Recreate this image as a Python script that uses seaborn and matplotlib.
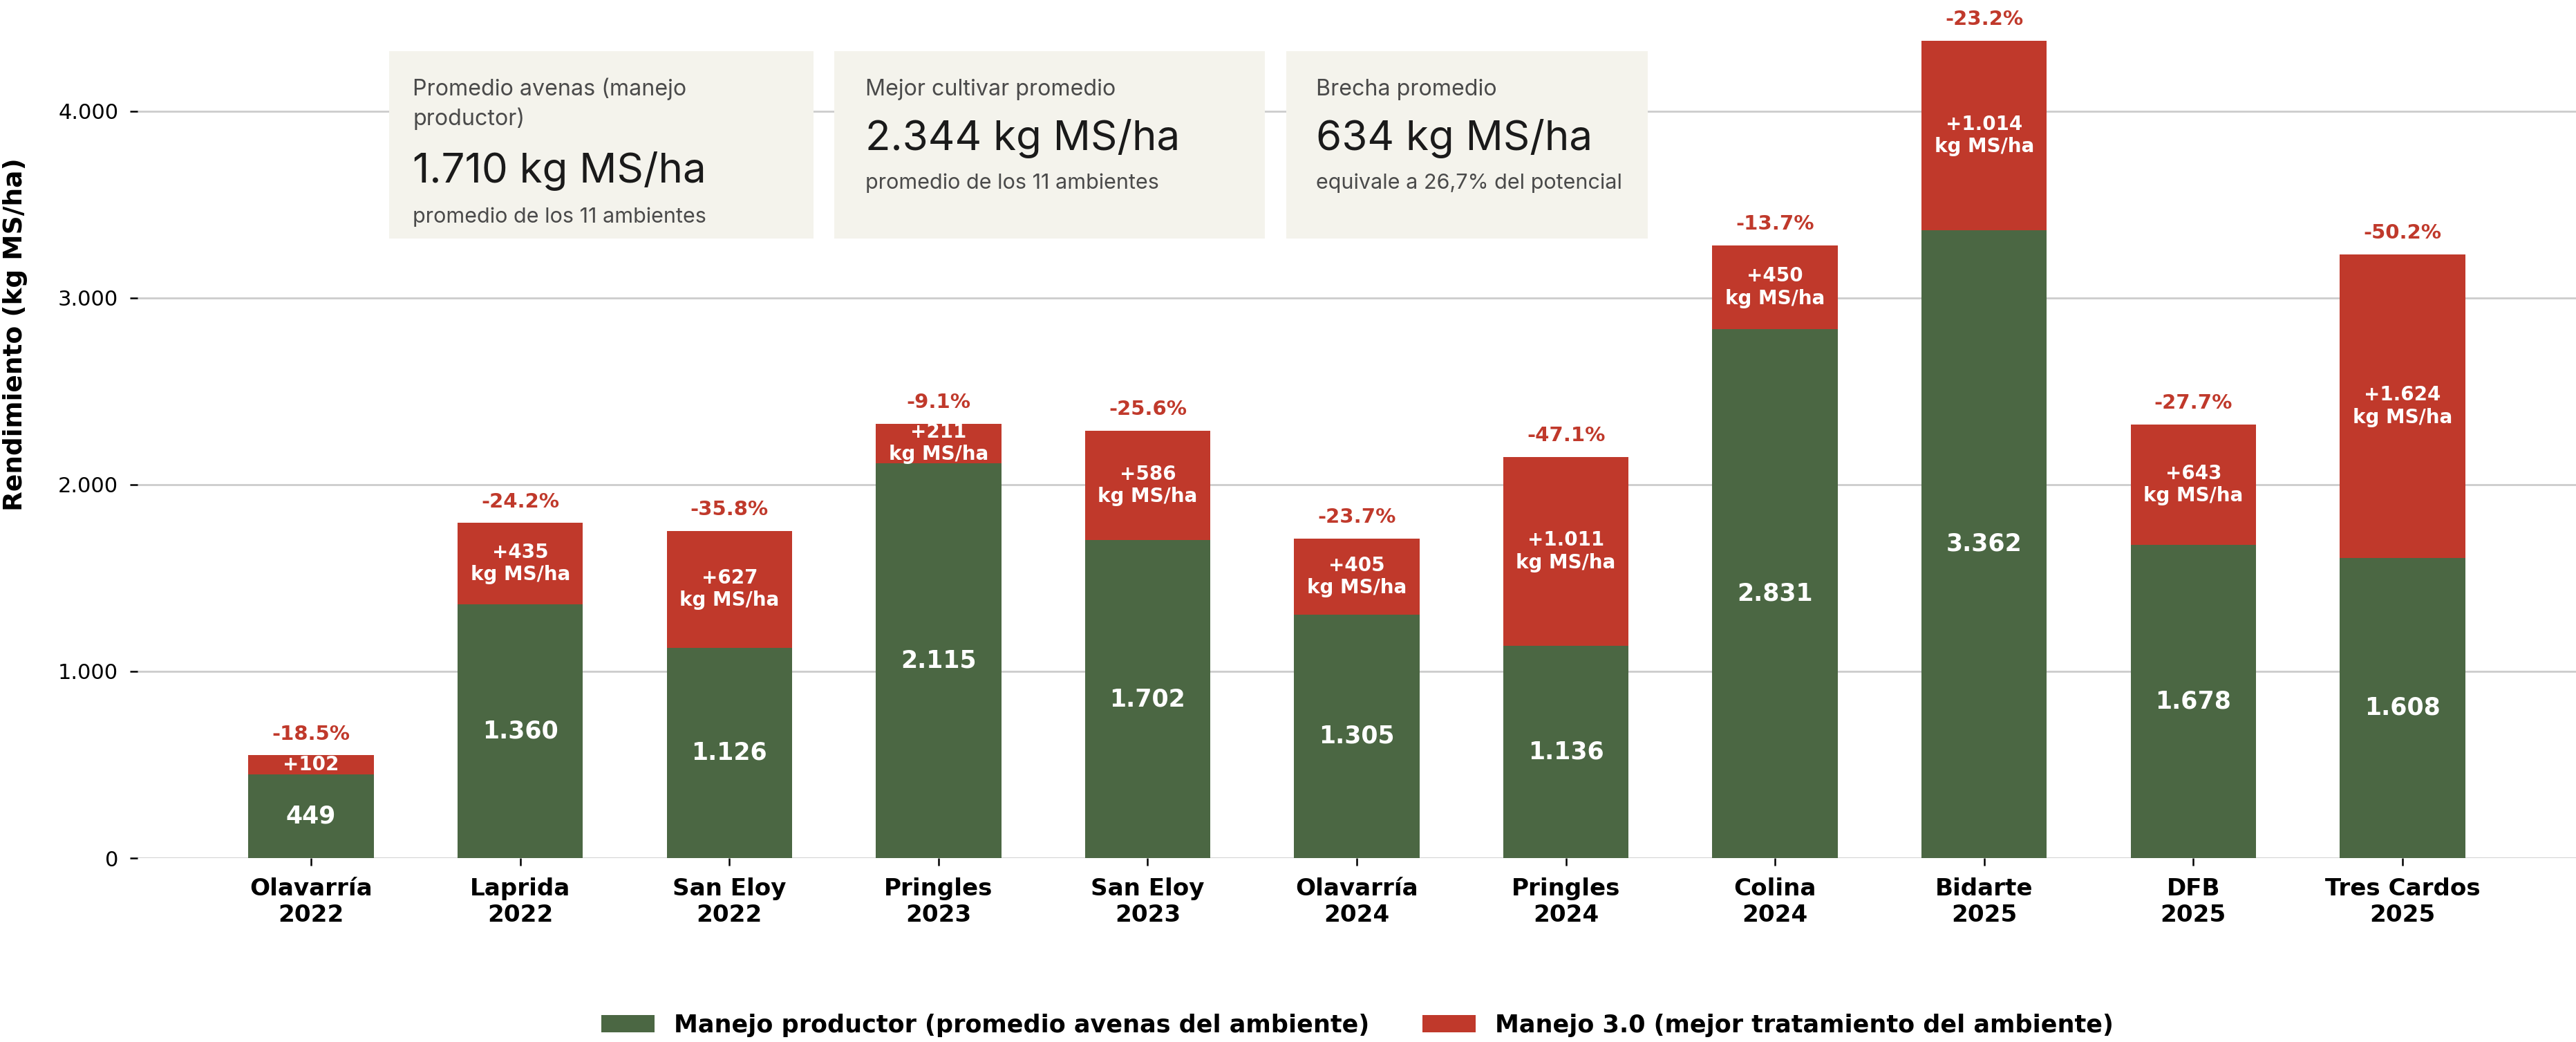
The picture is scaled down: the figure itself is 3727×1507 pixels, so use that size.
"""
Rendimiento de avenas: manejo productor vs manejo 3.0 por ambiente.
Output: out.png
"""

import matplotlib
matplotlib.use("Agg")
import matplotlib.pyplot as plt
from matplotlib.patches import Rectangle
from matplotlib.ticker import FuncFormatter
import pandas as pd
import seaborn as sns

GREEN = "#4b6743"
RED = "#c0392b"
BOX_BG = "#f4f3ec"

sites = [
    "Olavarría\n2022", "Laprida\n2022", "San Eloy\n2022", "Pringles\n2023",
    "San Eloy\n2023", "Olavarría\n2024", "Pringles\n2024", "Colina\n2024",
    "Bidarte\n2025", "DFB\n2025", "Tres Cardos\n2025",
]
productor = [449, 1360, 1126, 2115, 1702, 1305, 1136, 2831, 3362, 1678, 1608]
brecha = [102, 435, 627, 211, 586, 405, 1011, 450, 1014, 643, 1624]
brecha_pct = [-18.5, -24.2, -35.8, -9.1, -25.6, -23.7, -47.1, -13.7, -23.2, -27.7, -50.2]

legend_labels = [
    "Manejo productor (promedio avenas del ambiente)",
    "Manejo 3.0 (mejor tratamiento del ambiente)",
]

box_titles = ["Promedio avenas (manejo\nproductor)", "Mejor cultivar promedio", "Brecha promedio"]
box_values = ["1.710 kg MS/ha", "2.344 kg MS/ha", "634 kg MS/ha"]
box_notes = ["promedio de los 11 ambientes", "promedio de los 11 ambientes",
             "equivale a 26,7% del potencial"]


def miles(v):
    return f"{int(round(v)):,}".replace(",", ".")


sns.set_style("white", {"xtick.bottom": True, "ytick.left": True,
                        "text.color": "black", "axes.labelcolor": "black",
                        "xtick.color": "black", "ytick.color": "black"})
plt.rcParams["font.family"] = ["DejaVu Sans"]

df = pd.DataFrame({"sitio": sites, "productor": productor, "brecha": brecha})
df["total"] = df["productor"] + df["brecha"]

fig = plt.figure(figsize=(18.635, 7.535), dpi=200)
ax = fig.add_axes([0.0534, 0.1765, 0.9466, 0.8235])

sns.barplot(data=df, x="sitio", y="total", color=RED, saturation=1, width=0.6,
            linewidth=0, label=legend_labels[1], ax=ax)
sns.barplot(data=df, x="sitio", y="productor", color=GREEN, saturation=1, width=0.6,
            linewidth=0, label=legend_labels[0], ax=ax)
handles, labels = ax.get_legend_handles_labels()
if ax.get_legend() is not None:
    ax.get_legend().remove()

ax.set_xlim(-0.83, len(sites) - 0.17)
ax.set_ylim(0, df["total"].max() * 1.05)
ax.set_axisbelow(True)
ax.yaxis.grid(True, color="#cccccc", linewidth=1.0)
ax.set_yticks([0, 1000, 2000, 3000, 4000])
ax.yaxis.set_major_formatter(FuncFormatter(lambda v, p: miles(v)))
sns.despine(ax=ax, left=True, bottom=True)
ax.tick_params(axis="y", length=4, width=0.9, color="black", labelcolor="black",
               labelsize=11, pad=6)
ax.tick_params(axis="x", length=4, width=0.9, color="black", labelcolor="black",
               labelsize=12.3, pad=6)
for lbl in ax.get_xticklabels():
    lbl.set_fontweight("bold")
ax.set_xlabel("")
ax.set_ylabel("Rendimiento (kg MS/ha)", fontsize=13.5, weight="bold", color="black")
ax.yaxis.set_label_coords(-0.045, 0.61)

for i, row in df.iterrows():
    # productor value in the middle of the green segment
    ax.text(i, row["productor"] / 2, miles(row["productor"]), ha="center", va="center",
            color="white", fontsize=12.5, weight="bold")
    # gap value in the middle of the red segment
    gap_txt = f"+{miles(row['brecha'])}"
    if row["brecha"] >= 150:
        gap_txt += "\nkg MS/ha"
    ax.text(i, row["productor"] + row["brecha"] / 2, gap_txt, ha="center", va="center",
            color="white", fontsize=10, weight="bold", linespacing=1.2)
    ax.annotate(f"{brecha_pct[i]:.1f}%", xy=(i, row["total"]), xytext=(0, 6),
                textcoords="offset points", ha="center", va="bottom",
                color=RED, fontsize=10.5, weight="bold")

order = [labels.index(l) for l in legend_labels]
fig.legend([handles[k] for k in order], [labels[k] for k in order],
           loc="center", bbox_to_anchor=(0.527, 0.016), ncol=2, frameon=False,
           prop={"weight": "bold", "size": 12.6}, handlelength=2.2, columnspacing=2.2)

# summary cards
box_x = [0.1511, 0.3239, 0.4993]
box_w = [0.1647, 0.1672, 0.1403]
box_y, box_h = 0.7711, 0.1798
text_x = [0.1602, 0.3359, 0.5109]
title_y = [0.8796, 0.9084, 0.9084]   # baseline of the last title line
value_y = [0.8248, 0.8560, 0.8560]
note_y = [0.7863, 0.8188, 0.8188]
for k in range(3):
    fig.add_artist(Rectangle((box_x[k], box_y), box_w[k], box_h, transform=fig.transFigure,
                             facecolor=BOX_BG, edgecolor="none", zorder=5))
    fig.text(text_x[k], title_y[k], box_titles[k], family=["Inter", "DejaVu Sans"],
             fontsize=11.6, color="#4a4a4a", va="baseline", ha="left", linespacing=1.42,
             zorder=6)
    fig.text(text_x[k], value_y[k], box_values[k], family=["Inter", "DejaVu Sans"],
             fontsize=21.6, color="#1a1a1a", va="baseline", ha="left", zorder=6)
    fig.text(text_x[k], note_y[k], box_notes[k], family=["Inter", "DejaVu Sans"],
             fontsize=11, color="#4a4a4a", va="baseline", ha="left", zorder=6)

fig.savefig("out.png", dpi=200)
